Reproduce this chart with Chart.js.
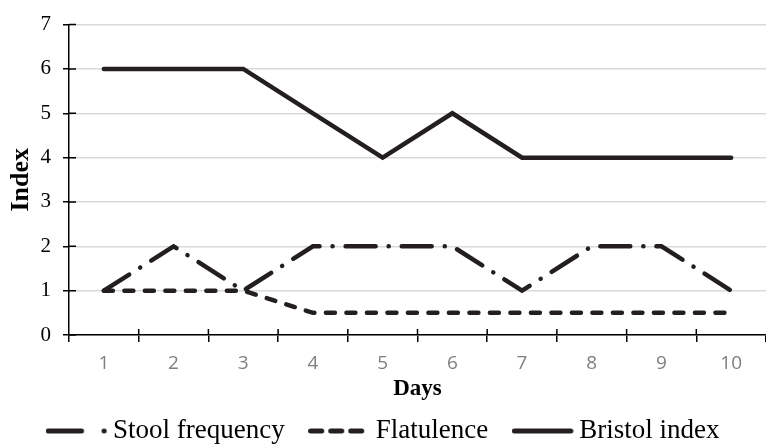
<!DOCTYPE html>
<html>
<head>
<meta charset="utf-8">
<script src="https://cdn.jsdelivr.net/npm/chart.js@4/dist/chart.umd.min.js"></script>
<style>
    html, body { margin: 0; padding: 0; background: #fff; }
    #wrap { width: 766px; height: 448px; }
</style>
</head>
<body>
<div id="wrap"><canvas id="line_chart"></canvas></div>
<script>
const days = ['1', '2', '3', '4', '5', '6', '7', '8', '9', '10'];
const stoolFrequency = [1, 2, 1, 2, 2, 2, 1, 2, 2, 1];
const flatulence = [1, 1, 1, 0.5, 0.5, 0.5, 0.5, 0.5, 0.5, 0.5];
const bristolIndex = [6, 6, 6, 5, 4, 5, 4, 4, 4, 4];
const yTicks = [0, 1, 2, 3, 4, 5, 6, 7];

const ink = '#231f20';

// legend swatches, drawn once into small canvases
const makeSwatch = (segments) => {
    const c = document.createElement('canvas');
    c.width = 62;
    c.height = 8;
    const g = c.getContext('2d');
    g.strokeStyle = ink;
    g.lineWidth = 5;
    g.lineCap = 'round';
    g.beginPath();
    for (const [a, b] of segments) {
        g.moveTo(a, 4);
        g.lineTo(b, 4);
    }
    g.stroke();
    return c;
};
const stoolSwatch = makeSwatch([[2.5, 36], [58.5, 58.6]]);
const flatSwatch = makeSwatch([[2.5, 13.5], [22.5, 33.5], [42.5, 53.5]]);
const bristolSwatch = makeSwatch([[2.5, 59]]);

// short black tick marks that cross into the plot area
const crossTicks = {
    id: 'crossTicks',
    afterDraw: (chart) => {
        const ctx = chart.ctx;
        const x = chart.scales.x;
        const y = chart.scales.y;
        ctx.save();
        ctx.strokeStyle = '#000';
        ctx.lineWidth = 1.5;
        ctx.beginPath();
        for (const v of yTicks) {
            const py = y.getPixelForValue(v);
            ctx.moveTo(x.left, py);
            ctx.lineTo(x.left + 7, py);
        }
        for (let i = 1; i < days.length; i++) {
            const px = (x.getPixelForValue(i - 1) + x.getPixelForValue(i)) / 2;
            ctx.moveTo(px, y.bottom);
            ctx.lineTo(px, y.bottom - 6);
        }
        ctx.stroke();
        ctx.restore();
    }
};

const ctx = document.querySelector('#line_chart');
const chart = new Chart(ctx, {
    type: 'line',
    data: {
        labels: days,
        datasets: [{
            label: 'Stool frequency',
            data: stoolFrequency,
            borderColor: ink,
            backgroundColor: ink,
            borderWidth: 4.5,
            borderDash: [30, 13, 0.1, 13],
            borderCapStyle: 'round',
            pointRadius: 0,
            pointStyle: stoolSwatch,
            tension: 0
        }, {
            label: 'Flatulence',
            data: flatulence,
            borderColor: ink,
            backgroundColor: ink,
            borderWidth: 4.5,
            borderDash: [9, 11.5],
            borderCapStyle: 'round',
            pointRadius: 0,
            pointStyle: flatSwatch,
            tension: 0
        }, {
            label: 'Bristol index',
            data: bristolIndex,
            borderColor: ink,
            backgroundColor: ink,
            borderWidth: 4.5,
            borderCapStyle: 'round',
            pointRadius: 0,
            pointStyle: bristolSwatch,
            tension: 0
        }]
    },
    options: {
        responsive: true,
        maintainAspectRatio: false,
        animation: false,
        layout: { padding: { top: 23, right: 0, left: 7, bottom: 0 } },
        plugins: {
            tooltip: { enabled: false },
            legend: {
                position: 'bottom',
                align: 'center',
                maxHeight: 62,
                labels: {
                    usePointStyle: true,
                    pointStyleWidth: 46,
                    padding: 31.5,
                    color: '#000',
                    font: { family: '"Liberation Serif", serif', size: 27, lineHeight: 1.2 }
                }
            }
        },
        scales: {
            x: {
                offset: true,
                grid: {
                    offset: true,
                    drawOnChartArea: false,
                    color: '#000',
                    tickLength: 7,
                    lineWidth: 1.5
                },
                border: { color: '#000', width: 1.5 },
                ticks: {
                    color: '#7f7f7f',
                    padding: 10,
                    font: { family: '"Open Sans", sans-serif', size: 19 }
                },
                title: {
                    display: true,
                    text: 'Days',
                    color: '#000',
                    padding: { top: -9.6, bottom: -16.8 },
                    font: { family: '"Liberation Serif", serif', size: 23, weight: 'bold', lineHeight: 1.2 }
                }
            },
            y: {
                min: 0,
                max: 7,
                afterFit: (scale) => { scale.width = 62; },
                grid: {
                    color: '#d9d9d9',
                    lineWidth: 1.5,
                    tickColor: '#000',
                    tickLength: 6
                },
                border: { color: '#000', width: 1.5 },
                ticks: {
                    stepSize: 1,
                    color: '#000',
                    padding: 12,
                    font: { family: '"Liberation Serif", serif', size: 21 }
                },
                title: {
                    display: true,
                    text: 'Index',
                    color: '#000',
                    padding: { top: 0, bottom: 0 },
                    font: { family: '"Liberation Serif", serif', size: 26, weight: 'bold', lineHeight: 1.1 }
                }
            }
        }
    },
    plugins: [crossTicks]
});
</script>
</body>
</html>
